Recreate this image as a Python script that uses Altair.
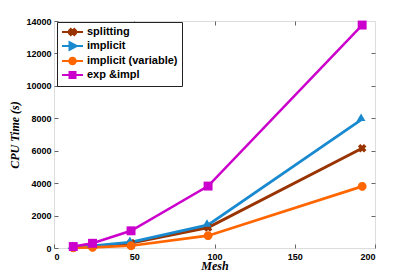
import altair as alt
import pandas as pd

mesh = [12, 24, 48, 96, 192]
series_names = ["splitting", "implicit", "implicit (variable)", "exp &impl"]
splitting = [40, 100, 300, 1260, 6150]
implicit = [50, 130, 360, 1420, 7950]
implicit_var = [15, 40, 140, 760, 3800]
exp_impl = [90, 290, 1060, 3820, 13750]

colors = ["#993300", "#1a8ad0", "#ff6600", "#cc00cc"]
markers = ["cross", "triangle-right", "circle", "square"]
angles = [45, 0, 0, 0]
widths = [3, 2.5, 2, 2]
legend_paths = [
    "M-1,0H3.2M0.45,-0.3L0.75,-0.6L1.1,-0.25L1.45,-0.6L1.75,-0.3L1.4,0L1.75,0.3L1.45,0.6L1.1,0.25L0.75,0.6L0.45,0.3L0.8,0Z",
    "M-1,0H3.2M0.5,-0.75L1.95,0L0.5,0.75Z",
    "M-1,0H3.2M0.45,0A0.65,0.65 0 1,0 1.75,0A0.65,0.65 0 1,0 0.45,0Z",
    "M-1,0H3.2M0.5,-0.6H1.7V0.6H0.5Z",
]

rows = []
for name, vals in zip(series_names, [splitting, implicit, implicit_var, exp_impl]):
    for m, v in zip(mesh, vals):
        rows.append({"series": name, "mesh": m, "cpu": v})
df = pd.DataFrame(rows)

xscale = alt.Scale(domain=[0, 200], nice=False, zero=False)
yscale = alt.Scale(domain=[0, 14000], nice=False)
cscale = alt.Scale(domain=series_names, range=colors)

lab = dict(labelFont="Liberation Sans", labelFontWeight="bold", labelFontSize=9, labelColor="black",
           titleFont="Liberation Serif", titleFontStyle="italic", titleFontWeight="bold",
           titleFontSize=12, titleColor="black", domain=False, grid=False,
           tickColor="#666666", tickSize=4, offset=-4, format="d")

xax = alt.Axis(orient="bottom", values=[0, 50, 100, 150, 200], title="Mesh",
               labelPadding=4, titlePadding=-1, **lab)
yax = alt.Axis(orient="left", values=list(range(0, 14001, 2000)), title="CPU Time (s)",
               labelPadding=3, titlePadding=4, **lab)

base = alt.Chart(df)

lines = base.mark_line().encode(
    x=alt.X("mesh:Q", scale=xscale, axis=xax),
    y=alt.Y("cpu:Q", scale=yscale, axis=yax),
    color=alt.Color("series:N", scale=cscale, legend=None),
    strokeWidth=alt.StrokeWidth("series:N", scale=alt.Scale(domain=series_names, range=widths), legend=None),
    detail="series:N",
    order="mesh:Q",
)

points = base.mark_point(filled=True, opacity=1).encode(
    x=alt.X("mesh:Q", scale=xscale, axis=None),
    y=alt.Y("cpu:Q", scale=yscale, axis=None),
    color=alt.Color("series:N", scale=cscale, legend=None),
    shape=alt.Shape("series:N", scale=alt.Scale(domain=series_names, range=markers), legend=None),
    angle=alt.Angle("series:N", scale=alt.Scale(domain=series_names, range=angles), legend=None),
    size=alt.Size("series:N", scale=alt.Scale(domain=series_names, range=[75, 80, 30, 26]), legend=None),
)

tickax = dict(labels=False, domain=False, grid=False, tickColor="#666666", tickSize=4, offset=-4, title=None)

leg = dict(title=None, orient="none", legendX=3, legendY=1, strokeColor="#222222", fillColor="white",
           padding=4, symbolSize=100, symbolStrokeWidth=2, labelOffset=14, rowPadding=-1,
           labelFont="Liberation Sans", labelFontWeight="bold", labelFontSize=11, labelColor="black")

legend_layer = base.transform_filter("datum.cpu < 0").mark_point(
    filled=True, opacity=1, strokeWidth=2, size=100
).encode(
    x=alt.X("mesh:Q", scale=xscale, axis=alt.Axis(orient="top", values=[50, 100, 150], **tickax)),
    y=alt.Y("cpu:Q", scale=yscale, axis=alt.Axis(orient="right", values=list(range(2000, 14000, 2000)), **tickax)),
    fill=alt.Fill("series:N", scale=alt.Scale(domain=series_names, range=colors), legend=alt.Legend(**leg)),
    stroke=alt.Stroke("series:N", scale=alt.Scale(domain=series_names, range=colors), legend=alt.Legend(**leg)),
    shape=alt.Shape("series:N", scale=alt.Scale(domain=series_names, range=legend_paths), legend=alt.Legend(**leg)),
)

chart = alt.layer(lines, points, legend_layer).resolve_scale(
    shape="independent", fill="independent", stroke="independent"
).resolve_axis(x="independent", y="independent").properties(
    width=321, height=227,
    autosize=alt.AutoSizeParams(type="none"),
    padding={"left": 46, "top": 13, "right": 32, "bottom": 24},
).configure_view(stroke="#777777", strokeWidth=1).configure_legend(
    strokeColor="#222222", symbolOpacity=1,
).configure(background="white")

chart.save("out.html", embed_options={"renderer": "svg", "actions": False})
